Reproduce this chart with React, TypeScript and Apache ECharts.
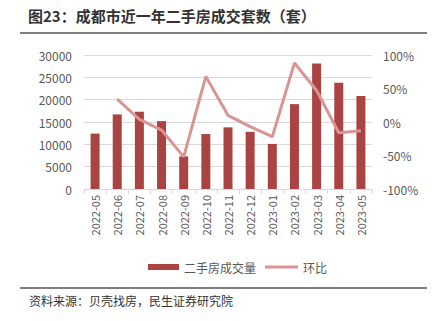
import React, { useEffect, useRef } from "react";
import * as echarts from "echarts";

const categories = ["2022-05","2022-06","2022-07","2022-08","2022-09","2022-10","2022-11","2022-12","2023-01","2023-02","2023-03","2023-04","2023-05"];
const volume = [12400, 16700, 17300, 15200, 7300, 12300, 13800, 12800, 10100, 19000, 28100, 23800, 20800];
const mom = [null, 34, 4, -12, -52, 68, 10, -7, -22, 88, 47, -16, -13];

const FONT = "'Noto Sans CJK SC', 'Microsoft YaHei', sans-serif";

export default function App() {
  const ref = useRef<HTMLDivElement>(null);
  useEffect(() => {
    if (!ref.current) return;
    const chart = echarts.init(ref.current, null, { renderer: "svg" });
    const legendText = { color: "#595959", fontSize: 12, fontFamily: FONT };
    chart.setOption({
      animation: false,
      backgroundColor: "#fff",
      textStyle: { fontFamily: FONT },
      graphic: [
        { type: "text", left: 28, top: 8, style: { text: "图23：成都市近一年二手房成交套数（套）", font: `bold 15px ${FONT}`, fill: "#333" } },
        { type: "line", shape: { x1: 20, y1: 33, x2: 427, y2: 33 }, style: { stroke: "#7f7f7f", lineWidth: 2 } },
        { type: "line", shape: { x1: 20, y1: 288, x2: 427, y2: 288 }, style: { stroke: "#7f7f7f", lineWidth: 2 } },
        { type: "text", left: 29, top: 294, style: { text: "资料来源：贝壳找房，民生证券研究院", font: `12px ${FONT}`, fill: "#333" } },
      ],
      legend: [
        {
          left: 143, top: 256, itemWidth: 31, itemHeight: 6, itemGap: 4,
          textStyle: legendText,
          data: [{ name: "二手房成交量", icon: "rect" }],
        },
        {
          left: 260, top: 256, itemWidth: 33, itemHeight: 3, itemGap: 4,
          textStyle: legendText,
          data: [{ name: "环比", icon: "rect", itemStyle: { color: "#D99594" } }],
        },
      ],
      grid: { left: 84, right: 63, top: 55, bottom: 132 },
      xAxis: {
        type: "category",
        data: categories,
        boundaryGap: true,
        axisLine: { lineStyle: { color: "#d9d9d9" } },
        axisTick: { show: true, alignWithLabel: false, lineStyle: { color: "#d9d9d9" } },
        axisLabel: { rotate: 90, color: "#595959", fontSize: 11, interval: 0, margin: 6 },
      },
      yAxis: [
        {
          type: "value", min: 0, max: 30000, interval: 5000,
          axisLabel: { color: "#595959", fontSize: 12, margin: 12, formatter: (v: number) => String(v) },
          splitLine: { lineStyle: { color: "#d9d9d9" } },
          axisLine: { show: false }, axisTick: { show: false },
        },
        {
          type: "value", min: -100, max: 100, interval: 50,
          axisLabel: { color: "#595959", fontSize: 12, formatter: "{value}%", margin: 11 },
          splitLine: { show: false },
          axisLine: { show: false }, axisTick: { show: false },
        },
      ],
      series: [
        {
          name: "二手房成交量", type: "bar", data: volume, barWidth: 9,
          itemStyle: { color: "#A94442" },
        },
        {
          name: "环比", type: "line", yAxisIndex: 1, data: mom,
          symbol: "none", lineStyle: { color: "#D99594", width: 3 },
          itemStyle: { color: "#D99594" },
        },
      ],
    });
    return () => chart.dispose();
  }, []);
  return <div ref={ref} style={{ position: "absolute", left: 0, top: 0, width: 435, height: 321 }} />;
}
